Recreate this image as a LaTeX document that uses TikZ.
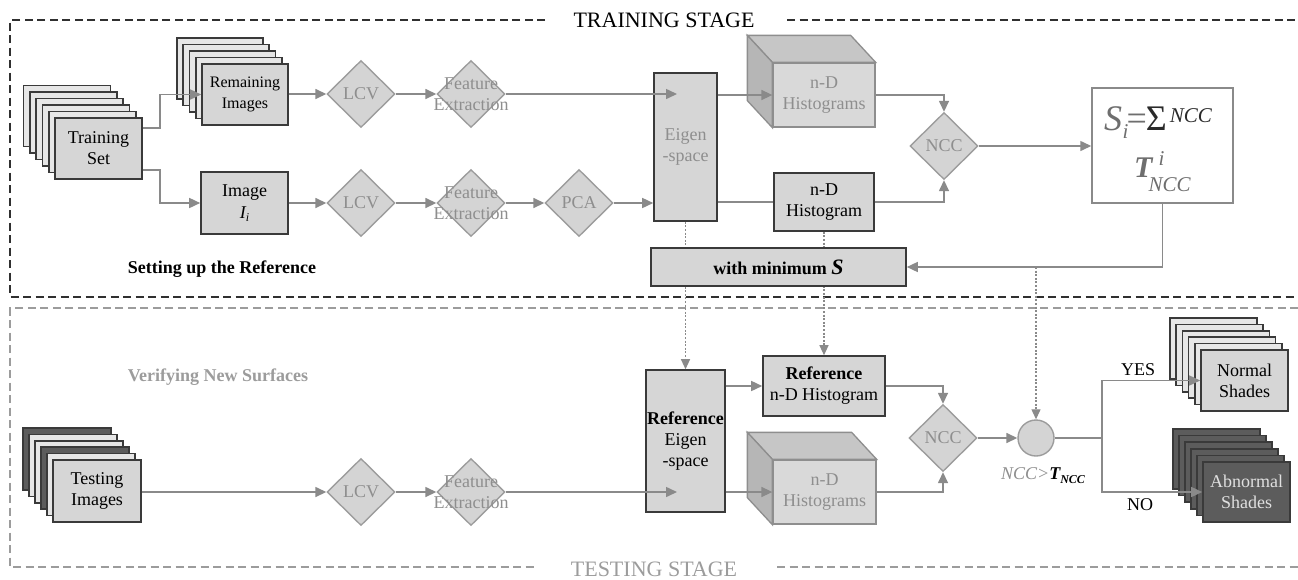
\documentclass[tikz,border=0pt]{standalone}
\usepackage{fontspec}
\setmainfont{Liberation Serif}
\usetikzlibrary{shapes.geometric,arrows.meta,calc}
\newcommand\fsz[2]{\fontsize{#1}{#2}\selectfont}
\definecolor{bdr}{HTML}{3A3A3A}
\definecolor{boxf}{HTML}{D6D6D6}
\definecolor{backf}{HTML}{E6E6E6}
\definecolor{darkf}{HTML}{5C5C5C}
\definecolor{diab}{HTML}{9C9C9C}
\definecolor{diaf}{HTML}{D4D4D4}
\definecolor{gtxt}{HTML}{8E8E8E}
\definecolor{lnc}{HTML}{8A8A8A}
\definecolor{cubeb}{HTML}{8E8E8E}
\definecolor{cfront}{HTML}{D9D9D9}
\definecolor{ctop}{HTML}{C6C6C6}
\definecolor{cside}{HTML}{B6B6B6}
\definecolor{tfr}{HTML}{303030}
\definecolor{sfr}{HTML}{9C9C9C}
\definecolor{fgray}{HTML}{6E6E6E}
\definecolor{dk}{HTML}{2A2A2A}
\begin{document}
\begin{tikzpicture}[x=1pt,y=-1pt,
  box/.style={draw=bdr,fill=boxf,line width=1.6pt,inner sep=1pt,align=center,font=\fsz{18}{21},text=black},
  backsheet/.style={draw=bdr,fill=backf,line width=1.6pt},
  dia/.style={diamond,draw=diab,fill=diaf,line width=1.4pt,minimum width=68pt,minimum height=67pt,inner sep=0pt},
  dtext/.style={text=gtxt,font=\fsz{18}{21},align=center,inner sep=0pt},
  face/.style={draw=cubeb,line width=1.3pt},
  cube/.style={draw=cubeb,fill=cfront,line width=1.3pt,align=center,font=\fsz{18}{21},text=gtxt,inner sep=1pt},
  conn/.style={draw=lnc,line width=1.5pt},
  arr/.style={conn,-{Triangle[length=11pt,width=10pt]}},
  dotarr/.style={draw=lnc,line width=1.2pt,dash pattern=on 2pt off 1.6pt,-{Triangle[length=10pt,width=9pt]}},
  frame/.style={line width=1.4pt,dash pattern=on 8pt off 4.5pt},
]
\useasboundingbox (0,0) rectangle (1298,579);
\fill[white] (0,0) rectangle (1298,579);

% frames
\draw[frame,draw=tfr] (545,20) -- (10,20) -- (10,297) -- (1298,297);
\draw[frame,draw=tfr] (787,20) -- (1298,20);
\draw[frame,draw=sfr] (1298,308) -- (10,308) -- (10,567) -- (535,567);
\draw[frame,draw=sfr] (777,567) -- (1298,567);
\node[font=\fsz{22}{22},inner sep=0pt] (ttrain) at (664,20) {TRAINING STAGE};
\node[font=\fsz{22}{22},text=sfr,inner sep=0pt] (ttest) at (654,569) {TESTING STAGE};

\node[font=\fsz{18}{21}\bfseries] (lsetup) at (222,269) {Setting up the Reference};
\node[font=\fsz{18}{21}\bfseries,text=sfr] (lverify) at (218,377) {Verifying New Surfaces};

% Training set stack
\foreach \k in {5,4,3,2,1}
  \draw[backsheet] (55-6.3*\k,118-6.5*\k) rectangle ++(87,61);
\node[box,minimum width=87pt,minimum height=61pt] (train) at (98.5,148.5) {Training\\Set};

% Remaining images stack
\foreach \k in {4,3,2,1}
  \draw[backsheet] (202-6.25*\k,64-6.5*\k) rectangle ++(86,61);
\node[box,minimum width=86pt,minimum height=61pt,font=\fsz{16}{21}] (rem) at (245,94.5) {Remaining\\Images};

\node[box,minimum width=87pt,minimum height=62pt] (img) at (244.5,203) {Image\\[1pt]{\itshape I}\raisebox{-3pt}{\fsz{12}{12}\itshape i}};

% diamonds
\node[dia,label={[dtext]center:LCV}] (lcv1) at (361,94) {};
\node[dia,label={[dtext]center:LCV}] (lcv2) at (361,203) {};
\node[dia,label={[dtext]center:Feature\\Extraction}] (fe1) at (471,94) {};
\node[dia,label={[dtext]center:Feature\\Extraction}] (fe2) at (471,203) {};
\node[dia,label={[dtext]center:PCA}] (pca) at (579,203) {};
\node[dia,label={[dtext]center:NCC}] (ncc1) at (944,146) {};

% Eigen-space
\node[box,minimum width=63pt,minimum height=148pt,text=gtxt] (eig) at (685.5,147) {Eigen\\-space};

% 3D histogram top
\node[cube,minimum width=102pt,minimum height=64pt] (h3a) at (824,95) {n-D\\Histograms};
\draw[face,fill=ctop] (h3a.north west) -- ++(-25,-27) -- ($(h3a.north east)+(-25,-27)$) -- (h3a.north east) -- cycle;
\draw[face,fill=cside] (h3a.north west) -- ++(-25,-27) -- ($(h3a.south west)+(-25,-27)$) -- (h3a.south west) -- cycle;

\node[box,minimum width=100pt,minimum height=58pt] (ndh) at (824,202) {n-D\\Histogram};

% S box
\node[draw=lnc,fill=white,line width=1.5pt,minimum width=141pt,minimum height=115pt] (sbox) at (1162.5,145.5) {};
\node[anchor=base west,inner sep=0pt] (sform1) at (1104,130) {{\color{fgray}\fsz{36}{36}\itshape S}\kern0.5pt\raisebox{-8pt}{\color{fgray}\fsz{21}{21}\itshape i}\kern-2pt{\color{fgray}\fsz{36}{36}=}\kern-1pt{\color{dk}\fsz{36}{36}Σ}\kern3pt\raisebox{8pt}{\color{dk}\fsz{21}{21}\itshape NCC}};
\node[anchor=base west,inner sep=0pt] (sform2) at (1134,177) {{\color{fgray}\fsz{30}{30}\bfseries\itshape T}\rlap{\kern6pt\raisebox{12pt}{\color{fgray}\fsz{21}{21}\itshape i}}\kern-4pt\raisebox{-14pt}{\color{fgray}\fsz{21}{21}\itshape NCC}};

% Testing stage
\foreach \k/\c in {5/darkf,4/backf,3/backf,2/darkf,1/backf}
  \draw[backsheet,fill=\c] (53-6*\k,460-6.4*\k) rectangle ++(88,62);
\node[box,minimum width=88pt,minimum height=62pt] (test) at (97,491) {Testing\\Images};

\node[dia,label={[dtext]center:LCV}] (lcv3) at (361,492) {};
\node[dia,label={[dtext]center:Feature\\Extraction}] (fe3) at (471,492) {};

\node[box,minimum width=63pt,minimum height=142pt] (reig) at (685.5,441) {\textbf{Reference}\\Eigen\\-space};
\node[box,minimum width=122pt,minimum height=60pt] (rndh) at (824,386) {\textbf{Reference}\\n-D Histogram};

\node[cube,minimum width=103pt,minimum height=64pt] (h3b) at (824.5,492) {n-D\\Histograms};
\draw[face,fill=ctop] (h3b.north west) -- ++(-25,-27) -- ($(h3b.north east)+(-25,-27)$) -- (h3b.north east) -- cycle;
\draw[face,fill=cside] (h3b.north west) -- ++(-25,-27) -- ($(h3b.south west)+(-25,-27)$) -- (h3b.south west) -- cycle;

\node[dia,label={[dtext]center:NCC}] (ncc2) at (943,438) {};
\node[circle,draw=diab,fill=diaf,line width=1.4pt,minimum size=36pt,inner sep=0pt] (circ) at (1036,438) {};
\node[font=\fsz{18}{21},inner sep=0pt] (lthr) at (1043,476) {{\color{gtxt}\itshape NCC>}{\bfseries\itshape T}\raisebox{-4pt}{\fsz{12}{12}\bfseries\itshape NCC}};

% Normal shades
\foreach \k in {5,4,3,2,1}
  \draw[backsheet] (1201-6.2*\k,350-6.4*\k) rectangle ++(87,61);
\node[box,minimum width=87pt,minimum height=61pt] (norm) at (1244.5,380.5) {Normal\\Shades};
% Abnormal shades
\foreach \k in {5,4,3,2,1}
  \draw[backsheet,fill=darkf] (1203-6*\k,462-6.6*\k) rectangle ++(87,60);
\node[box,fill=darkf,text=white!88!black,minimum width=87pt,minimum height=60pt] (abn) at (1246.5,492) {Abnormal\\Shades};

\node[font=\fsz{18}{21},inner sep=0pt] (lyes) at (1138,370) {YES};
\node[font=\fsz{18}{21},inner sep=0pt] (lno) at (1140,505) {NO};

% dotted links (behind the min box)
\coordinate (fb) at (1036,267);
\draw[dotarr] (eig.south) -- (reig.north);
\draw[dotarr] (ndh.south) -- (rndh.north);
\draw[dotarr] (fb) -- (circ.north);

\node[box,minimum width=255pt,minimum height=38pt,font=\fsz{18}{21}\bfseries] (wmin) at (778.5,267) {with minimum {\fsz{22}{22}\itshape S}};

% connectors top
\draw[arr] ([yshift=20.5pt]train.east) -- ++(17,0) |- (rem.west);
\draw[arr] ([yshift=-21.5pt]train.east) -- ++(17,0) |- (img.west);
\draw[arr] (rem.east |- lcv1) -- (lcv1.west);
\draw[arr] (lcv1.east) -- (fe1.west);
\coordinate (ein1) at (677,94);
\draw[arr] (fe1.east) -- (ein1);
\draw[arr] (eig.east |- h3a) -- (h3a.west);
\draw[arr] (img.east) -- (lcv2.west);
\draw[arr] (lcv2.east) -- (fe2.west);
\draw[arr] (fe2.east) -- (pca.west);
\draw[arr] (pca.east) -- (eig.west |- pca);
\draw[conn] (eig.east |- ndh) -- (ndh.west);
\draw[arr] (h3a.east) -| (ncc1.north);
\draw[arr] (ndh.east) -| (ncc1.south);
\draw[arr] (ncc1.east) -- (sbox.west |- ncc1);
\draw[arr] (sbox.south) |- (wmin.east);

% connectors bottom
\draw[arr] (test.east |- lcv3) -- (lcv3.west);
\draw[arr] (lcv3.east) -- (fe3.west);
\coordinate (ein2) at (677,492);
\draw[arr] (fe3.east) -- (ein2);
\draw[arr] (reig.east |- h3b) -- (h3b.west);
\draw[arr] (reig.east |- rndh) -- (rndh.west);
\draw[arr] (rndh.east) -| (ncc2.north);
\draw[arr] (h3b.east) -| (ncc2.south);
\draw[arr] (ncc2.east) -- (circ.west);
\coordinate (br) at (1102,438);
\draw[conn] (circ.east) -- (br);
\draw[arr] (br) |- (norm.west);
\draw[arr] (br) |- (abn.west);
\end{tikzpicture}
\end{document}
